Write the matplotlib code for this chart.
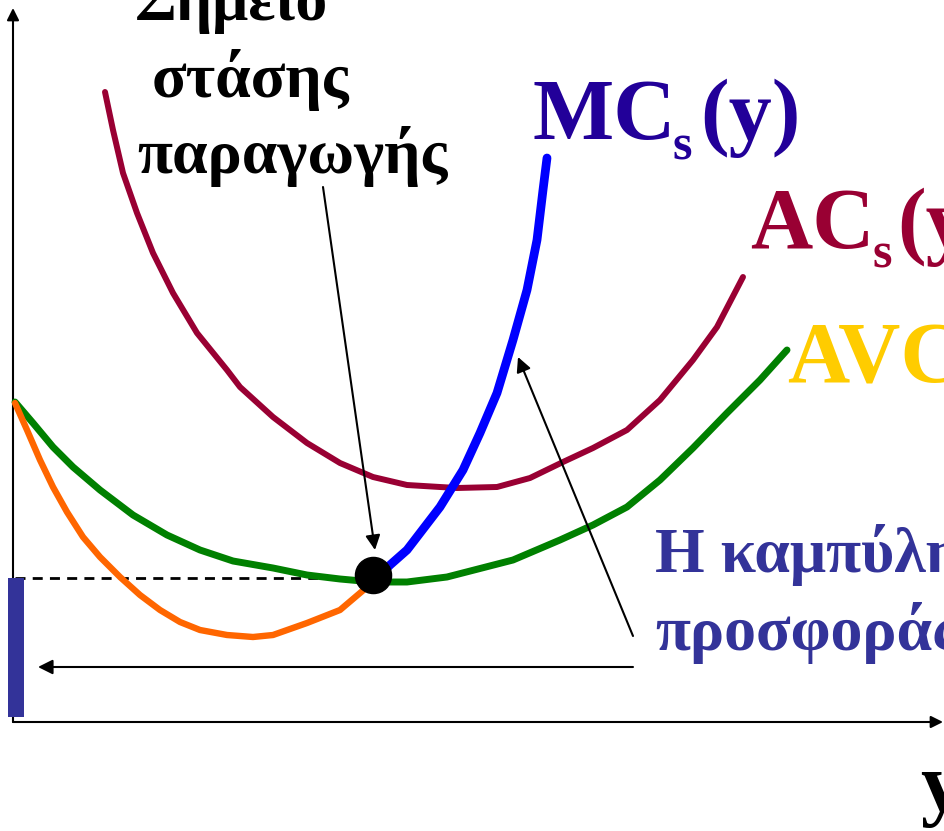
import matplotlib
matplotlib.use("Agg")
import matplotlib.pyplot as plt

# ---- data (quantity q, cost c); origin at the axes intersection ----
ac_q = [92, 100, 110, 124, 140, 160, 184, 214, 227, 260, 294, 327, 360, 394, 427, 444, 484, 517, 550, 580, 614, 647, 680, 704, 730]
ac_c = [630, 592, 549, 509, 469, 429, 389, 352, 335, 305, 279, 259, 245, 237, 235, 234, 235, 244, 260, 274, 292, 322, 362, 395, 445]

avc_q = [2, 20, 40, 60, 87, 120, 154, 187, 220, 260, 294, 327, 360, 394, 434, 500, 547, 580, 614, 647, 680, 714, 747, 774]
avc_c = [320, 299, 275, 255, 232, 207, 187, 172, 161, 154, 147, 143, 140, 140, 145, 162, 182, 197, 215, 242, 274, 309, 342, 372]

mc_q = [2, 14, 27, 40, 54, 70, 87, 107, 127, 147, 167, 187, 214, 240, 260, 294, 327,
        360, 377, 394, 427, 450, 467, 484, 500, 514, 524, 530, 534]
mc_c = [319, 292, 262, 235, 210, 185, 165, 145, 127, 112, 100, 92, 87, 85, 87, 99, 112,
        140, 157, 172, 215, 252, 289, 329, 382, 432, 482, 532, 564]

shutdown_q = 360
shutdown_c = 147
shutdown_price = 144

title_lines = ["Σημείο", "στάσης", "παραγωγής"]
supply_lines = ["Η καμπύλη", "προσφοράς"]

FONT = "Liberation Serif"

fig = plt.figure(figsize=(9.44, 8.31), dpi=100)
ax = fig.add_axes([0, 0, 1, 1])
ax.set_xlim(-13, 931)
ax.set_ylim(-109, 722)
ax.axis("off")

# axes with arrows
ax.annotate("", xy=(0, 714), xytext=(0, 0),
            arrowprops=dict(arrowstyle="-|>", lw=1.5, color="black", mutation_scale=18, shrinkA=0, shrinkB=0))
ax.annotate("", xy=(930, 0), xytext=(0, 0),
            arrowprops=dict(arrowstyle="-|>", lw=1.5, color="black", mutation_scale=18, shrinkA=0, shrinkB=0))

line_kw = dict(solid_capstyle="round", solid_joinstyle="round")
# curves
ax.plot(ac_q, ac_c, color="#990033", lw=4.3, zorder=3, **line_kw)
ax.plot(avc_q, avc_c, color="#008000", lw=5.0, zorder=3, **line_kw)
ax.plot(mc_q, mc_c, color="#FF6600", lw=4.6, zorder=4, **line_kw)
sup_q = [q for q in mc_q if q >= shutdown_q]
sup_c = [c for q, c in zip(mc_q, mc_c) if q >= shutdown_q]
ax.plot(sup_q, sup_c, color="#0000FF", lw=6.3, zorder=5, **line_kw)

# dashed price line and supply segment on vertical axis
ax.plot([2, shutdown_q - 18], [shutdown_price, shutdown_price], color="black", lw=2.0,
        ls=(0, (3.6, 2.6)), zorder=2)
ax.bar(3, shutdown_price - 5, bottom=5, width=16, color="#333399", zorder=3)

# shutdown point
ax.plot([shutdown_q], [shutdown_c], "o", color="black", markersize=26, zorder=6)

# annotation arrows
arrow_kw = dict(arrowstyle="-|>", lw=1.5, color="black", mutation_scale=22, shrinkA=0, shrinkB=0)
ax.annotate("", xy=(362, 172), xytext=(310, 535), arrowprops=arrow_kw, zorder=7)
ax.annotate("", xy=(505, 365), xytext=(620, 86), arrowprops=arrow_kw, zorder=7)
ax.annotate("", xy=(25, 55), xytext=(620, 55), arrowprops=arrow_kw, zorder=7)

# texts
tb = dict(fontfamily=FONT, fontweight="bold", va="baseline", ha="left")
for txt, q, c in zip(title_lines, [122, 139, 124], [702, 625, 549]):
    ax.text(q, c, txt, fontsize=46, color="black", **tb)

mc_col = "#220099"
ax.text(519, 583, "MC", fontsize=62, color=mc_col, **tb)
ax.text(660, 562, "s", fontsize=36, color=mc_col, **tb)
ax.text(687, 583, "(y)", fontsize=62, color=mc_col, **tb)

ac_col = "#990033"
ax.text(737, 474, "AC", fontsize=62, color=ac_col, **tb)
ax.text(860, 454, "s", fontsize=36, color=ac_col, **tb)
ax.text(884, 474, "(y)", fontsize=62, color=ac_col, **tb)

ax.text(774, 339, "AVC", fontsize=62, color="#FFCC00", **tb)

for txt, c in zip(supply_lines, [150, 72]):
    ax.text(642, c, txt, fontsize=46, color="#333399", **tb)

ax.text(907, -88, "y", fontsize=60, color="black", **tb)

fig.savefig("out.png", dpi=100)
